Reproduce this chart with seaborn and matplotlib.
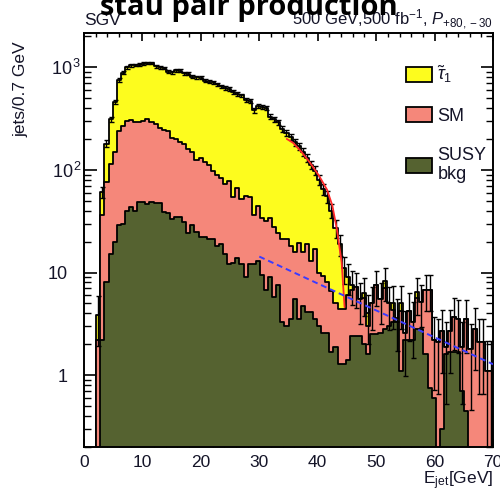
import numpy as np
import pandas as pd
import matplotlib
matplotlib.use("Agg")
import matplotlib.pyplot as plt
import seaborn as sns
from matplotlib.patches import Patch
from matplotlib.ticker import (FixedLocator, FixedFormatter, MultipleLocator,
                               LogLocator, NullFormatter)

# ---------------- data (per 0.7 GeV bin, 0..70 GeV, stacked heights) ----------
bin_edges = [round(0.7 * i, 2) for i in range(101)]
bin_centers = [round(0.7 * i + 0.35, 3) for i in range(100)]

# top of the SUSY-bkg layer
susy_top = [0, 0, 0, 0, 2.2, 8, 15, 20, 29, 30,
            40, 43, 40, 49, 49, 47, 49, 48, 48, 39,
            38, 33, 35, 35, 31, 24, 29, 25, 22, 22,
            21, 21, 18, 19, 15, 12, 12.5, 14, 12, 9,
            12, 12, 13, 9.5, 6.7, 9, 5.8, 7.5, 3.3, 3.0,
            3.5, 5.5, 3.5, 4.7, 4.1, 4.1, 3.5, 3.0, 2.6, 2.6,
            1.7, 1.9, 1.3, 1.3, 1.4, 2.4, 2.4, 2.4, 2.0, 1.6,
            2.5, 2.5, 2.6, 2.8, 3.0, 3.3, 3.3, 1.1, 2.2, 2.2,
            2.2, 2.8, 2.8, 1.6, 0.75, 0.6, 0, 0.3, 1.6, 1.7,
            1.7, 1.7, 0.7, 0.45, 0, 0, 0, 0, 0, 0]

# top of the SM layer (SUSY bkg + SM)
sm_top = [0, 0, 0, 2.2, 36, 76, 115, 150, 240, 265,
          300, 305, 295, 290, 300, 310, 295, 280, 255, 245,
          240, 205, 200, 185, 180, 160, 150, 125, 130, 118,
          112, 97, 90, 83, 72, 78, 54, 66, 52, 56,
          54, 36, 44, 34, 32, 34, 28, 24, 21, 21,
          18, 16, 19.5, 16, 19, 13, 17, 10, 9.3, 8,
          6.6, 5.0, 4.4, 4.4, 6.0, 6.8, 7.2, 5.5, 5.6, 3.0,
          5.0, 7.5, 5.5, 7.0, 5.0, 4.3, 3.3, 4.2, 2.6, 4.2,
          3.3, 5.6, 5.2, 6.8, 6.8, 2.2, 2.1, 2.7, 1.9, 2.7,
          3.7, 3.5, 1.9, 3.5, 1.8, 2.8, 2.1, 2.1, 1.1, 1.1]

# total (SUSY bkg + SM + stau signal)
total = [0, 0, 0, 3.9, 61, 180, 310, 460, 750, 880,
         1000, 1040, 1050, 1060, 1080, 1100, 1100, 1020, 1000, 980,
         900, 890, 930, 920, 870, 860, 810, 800, 790, 740,
         720, 710, 680, 650, 630, 610, 570, 550, 530, 480,
         470, 380, 420, 410, 400, 330, 310, 290, 250, 230,
         210, 185, 170, 150, 130, 112, 98, 80, 65, 55,
         40, 27, 19, 11, 9.0, 7.6, 7.2, 5.5, 6.3, 4.0,
         5.0, 7.5, 5.5, 8.2, 5.0, 5.1, 3.6, 5.1, 2.6, 4.2,
         3.3, 6.4, 5.2, 6.8, 6.8, 2.2, 2.1, 2.7, 1.9, 2.7,
         3.7, 3.5, 1.9, 3.5, 1.8, 2.8, 2.1, 2.1, 1.1, 1.1]

# endpoint fit (red) and background fit (blue dashed)
fit_x = [34.7, 35.8, 37.2, 38.7, 40.2, 41.6, 42.5, 43.3, 44.1, 44.4, 44.6]
fit_y = [200, 183, 150, 117, 88, 64, 45, 26, 12.5, 6.8, 4.6]
bkg_x = [30.0, 70.0]
bkg_y = [14.3, 1.28]

legend_labels = [r"$\tilde{\tau}_1$", "SM", "SUSY\nbkg"]
y_ticks = [1, 10, 100, 1000]
y_ticklabels = ["1", "10", r"$10^{\,2}$", r"$10^{\,3}$"]

df = pd.DataFrame({"E": bin_centers, "susy": susy_top, "sm": sm_top,
                   "tot": total})

# ---------------- style -----------------------------------------------------------
c_yellow = "#fdfc1e"
c_salmon = "#f5877a"
c_olive = "#556230"
txt = "#141428"

sns.set_style("ticks")
plt.rcParams["font.family"] = ["Liberation Sans", "DejaVu Sans"]
plt.rcParams["mathtext.fontset"] = "custom"
plt.rcParams["mathtext.rm"] = "Liberation Sans"
plt.rcParams["mathtext.it"] = "Liberation Sans:italic"
plt.rcParams["mathtext.bf"] = "Liberation Sans:bold"

fig = plt.figure(figsize=(5.0, 4.9), dpi=100)
ax = fig.add_axes([84 / 500, 43 / 490, 409 / 500, 414 / 490])
ax.set_yscale("log")

for col_name, col in [("tot", c_yellow), ("sm", c_salmon), ("susy", c_olive)]:
    sns.histplot(data=df, x="E", weights=col_name, bins=bin_edges,
                 element="step", fill=True, color=col, edgecolor="black",
                 linewidth=1.3, alpha=1, ax=ax)

tot = df["tot"].to_numpy(dtype=float)
cen = df["E"].to_numpy(dtype=float)
m = tot > 0
err = np.sqrt(tot[m])
lower = np.minimum(err, tot[m] * 0.999)
ax.errorbar(cen[m], tot[m], yerr=[lower, err], fmt="none",
            ecolor="black", elinewidth=1.0, capsize=1.8, capthick=1.0, zorder=5)

sns.lineplot(x=fit_x, y=fit_y, color="#ff2a2a", linewidth=1.3, ax=ax,
             legend=False, zorder=6, sort=False)
sns.lineplot(x=bkg_x, y=bkg_y, color="#3b3bff", linewidth=1.4, ax=ax,
             legend=False, zorder=6, linestyle=(0, (3, 2)))

ax.set_xlim(0, 70)
ax.set_ylim(0.2, 2150)
ax.xaxis.set_major_locator(MultipleLocator(10))
ax.xaxis.set_minor_locator(MultipleLocator(2))
ax.yaxis.set_major_locator(FixedLocator(y_ticks))
ax.yaxis.set_major_formatter(FixedFormatter(y_ticklabels))
ax.yaxis.set_minor_locator(LogLocator(base=10, subs=np.arange(2, 10), numticks=30))
ax.yaxis.set_minor_formatter(NullFormatter())
ax.tick_params(which="both", direction="in", top=True, right=True, colors="black")
ax.tick_params(axis="y", which="major", length=9, width=1.2, labelsize=13,
               labelcolor=txt)
ax.tick_params(axis="y", which="minor", length=5, width=1.0)
ax.tick_params(axis="x", which="major", length=6, width=1.2, labelsize=12.5,
               labelcolor=txt, pad=6)
ax.tick_params(axis="x", which="minor", length=3, width=1.0)
for i, tk in enumerate(ax.yaxis.get_major_ticks()):
    tk.set_pad(11.5 if i < 2 else 1.5)
for s in ax.spines.values():
    s.set_linewidth(1.4)
    s.set_color("black")

ax.set_xlabel(r"E$_{\mathrm{jet}}$[GeV]", fontsize=12.5, color=txt, loc="right")
ax.xaxis.set_label_coords(1.0, -0.053)
ax.xaxis.label.set_va("top")
ax.set_ylabel("jets/0.7 GeV", fontsize=12.5, color=txt)
ax.yaxis.set_label_coords(-0.135, 0.865)

handles = [Patch(facecolor=c, edgecolor="black", linewidth=1.3)
           for c in (c_yellow, c_salmon, c_olive)]
ax.legend(handles, legend_labels, loc="upper left", bbox_to_anchor=(0.787, 0.925),
          frameon=False, fontsize=13, handlelength=1.45, handleheight=0.9,
          handletextpad=0.3, labelspacing=1.2, borderpad=0, borderaxespad=0,
          labelcolor=txt)

fig.text(84 / 500, 1 - 25 / 490, "SGV", fontsize=12.5, color=txt,
         ha="left", va="baseline")
fig.text(493 / 500, 1 - 25 / 490,
         r"500 GeV,500 fb$^{-1}$, $\mathit{P}_{\mathit{+80,-30}}$",
         fontsize=12, color=txt, ha="right", va="baseline")
fig.text(249 / 500, 1 - 15 / 490, "stau pair production", fontsize=21,
         fontweight="bold", family=["Open Sans", "DejaVu Sans"], color="black",
         ha="center", va="baseline")

fig.savefig("out.png", dpi=100)
